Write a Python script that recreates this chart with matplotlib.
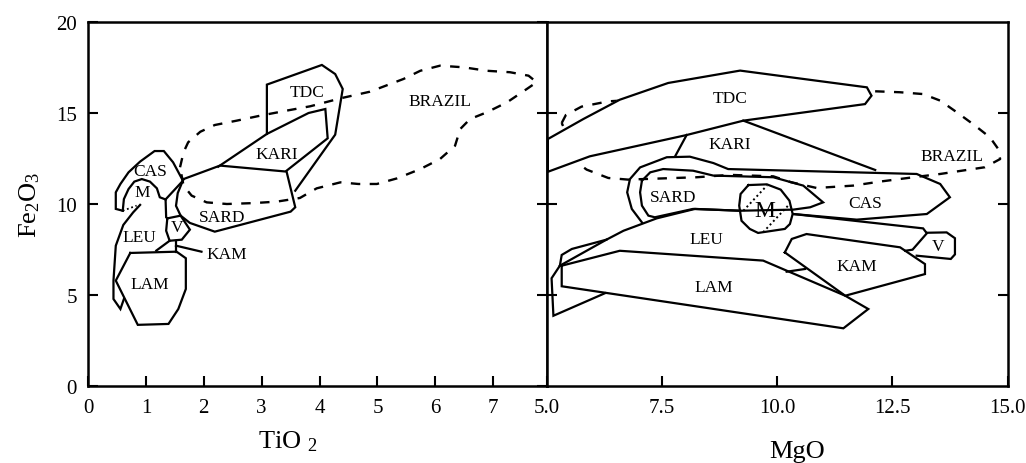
import matplotlib
matplotlib.use("Agg")
import matplotlib.pyplot as plt

plt.rcParams['font.family'] = ['Liberation Serif', 'DejaVu Serif']
plt.rcParams['mathtext.fontset'] = 'custom'
plt.rcParams['mathtext.rm'] = 'Liberation Serif'
plt.rcParams['mathtext.it'] = 'Liberation Serif'

# Campos composicionais: Fe2O3 x TiO2
tio2_tdc = [(3.09, 13.85), (3.09, 16.56), (4.04, 17.64), (4.27, 17.14), (4.40, 16.32), (4.27, 13.81), (3.58, 10.73)]
tio2_kari = [(2.25, 12.05), (3.09, 13.85), (3.81, 15.0), (4.10, 15.22), (4.14, 13.61), (3.43, 11.83)]
tio2_sard = [(1.65, 11.37), (2.28, 12.11), (3.43, 11.78), (3.58, 9.82), (3.50, 9.58), (2.19, 8.48),
             (1.76, 8.96), (1.60, 9.36), (1.52, 9.9), (1.55, 10.6), (1.65, 11.37)]
tio2_cas = [(0.60, 9.63), (0.48, 9.73), (0.48, 10.64), (0.56, 11.1), (0.70, 11.74), (0.90, 12.33),
            (1.15, 12.91), (1.31, 12.91), (1.47, 12.29), (1.64, 11.28), (1.34, 10.25)]
tio2_m = [(0.60, 9.63), (0.62, 10.27), (0.70, 10.82), (0.80, 11.23), (0.93, 11.37), (1.07, 11.23),
          (1.19, 10.86), (1.24, 10.37), (1.34, 10.25)]
tio2_m_dot = [(0.60, 9.63), (0.84, 9.91)]
tio2_leu = [(0.90, 9.95), (0.78, 9.54), (0.61, 8.85), (0.48, 7.71), (0.44, 5.79), (0.44, 4.78),
            (0.56, 4.23), (0.62, 4.78)]
tio2_leu_dir = [(1.34, 10.25), (1.35, 9.27), (1.37, 9.21)]
tio2_leu_inf = [(1.41, 7.98), (1.18, 7.44)]
tio2_lam = [(0.73, 7.31), (1.53, 7.38), (1.69, 7.02), (1.69, 5.33), (1.56, 4.23), (1.39, 3.41),
            (0.86, 3.36), (0.48, 5.79), (0.73, 7.31)]
tio2_v = [(1.37, 9.21), (1.60, 9.36), (1.76, 8.59), (1.62, 8.04), (1.41, 7.98), (1.35, 8.53), (1.37, 9.21)]
tio2_kam = [(1.52, 7.98), (1.52, 7.34)]
tio2_kam_seta = [(1.52, 7.71), (1.96, 7.38)]
tio2_brazil = [(1.59, 12.02), (1.65, 12.84), (1.73, 13.39), (1.94, 13.97), (2.19, 14.34), (2.57, 14.58),
               (2.97, 14.85), (3.43, 15.13), (3.84, 15.37), (4.38, 15.82), (4.87, 16.17), (5.45, 16.87),
               (5.74, 17.32), (6.08, 17.60), (6.49, 17.51), (6.89, 17.32), (7.29, 17.24), (7.61, 17.05),
               (7.75, 16.69), (7.58, 16.32), (7.24, 15.59), (6.89, 15.04), (6.60, 14.67), (6.43, 14.12),
               (6.34, 13.20), (6.08, 12.47), (5.74, 11.92), (5.34, 11.41), (4.99, 11.10), (4.67, 11.10),
               (4.36, 11.19), (3.95, 10.86), (3.66, 10.33), (3.26, 10.13), (2.86, 10.05), (2.40, 10.00),
               (2.05, 10.09), (1.79, 10.46), (1.65, 11.01), (1.59, 12.02)]

# Campos composicionais: Fe2O3 x MgO
mgo_tdc = [(5.03, 13.57), (5.80, 14.67), (6.59, 15.73), (7.64, 16.65), (9.20, 17.33), (11.95, 16.41),
           (12.05, 15.95), (11.91, 15.49), (9.27, 14.58), (8.04, 13.79), (5.94, 12.62), (5.03, 11.77),
           (5.03, 13.57)]
mgo_kari_esq = [(7.79, 12.62), (8.04, 13.79)]
mgo_kari_dir = [(9.27, 14.58), (12.13, 11.87)]
mgo_cas = [(7.07, 8.99), (6.85, 9.73), (6.75, 10.64), (6.81, 11.37), (7.03, 12.01), (7.61, 12.57),
           (8.11, 12.60), (8.62, 12.25), (8.94, 11.92), (13.03, 11.65), (13.54, 11.10), (13.75, 10.37),
           (13.25, 9.45), (11.73, 9.14), (10.35, 9.45)]
mgo_sard = [(7.07, 11.28), (7.25, 11.74), (7.53, 11.92), (8.18, 11.83), (8.62, 11.56), (9.92, 11.47),
            (10.57, 11.01), (11.00, 10.09), (10.72, 9.82), (10.35, 9.69), (9.20, 9.63), (8.18, 9.73),
            (7.35, 9.27), (7.21, 9.36), (7.07, 9.91), (7.03, 10.64), (7.07, 11.28)]
mgo_m = [(9.38, 11.04), (9.78, 11.08), (10.08, 10.79), (10.27, 10.18), (10.34, 9.45), (10.28, 8.90),
         (10.17, 8.63), (9.59, 8.41), (9.41, 8.63), (9.23, 9.08), (9.18, 9.91), (9.21, 10.55), (9.38, 11.04)]
mgo_m_dot1 = [(9.27, 9.63), (9.78, 11.01)]
mgo_m_dot2 = [(9.70, 8.45), (10.24, 9.91)]
mgo_leu = [(6.27, 5.10), (5.15, 3.86), (5.11, 5.92), (5.29, 6.61), (5.33, 7.20), (5.55, 7.53),
           (6.30, 8.04), (6.67, 8.53), (7.39, 9.21), (8.22, 9.73), (9.20, 9.63)]
mgo_leu_dir = [(10.35, 9.45), (13.17, 8.66), (13.25, 8.39), (12.94, 7.49), (12.78, 7.43)]
mgo_leu_int = [(5.29, 6.61), (6.30, 8.04)]
mgo_lam = [(5.33, 6.61), (6.59, 7.43), (9.70, 6.89), (11.48, 4.96), (11.98, 4.23), (11.44, 3.17),
           (5.33, 5.48), (5.33, 6.61)]
mgo_kam = [(10.17, 7.34), (10.32, 8.08), (10.64, 8.35), (12.67, 7.62), (13.21, 6.70), (13.21, 6.15),
           (11.48, 4.96), (10.17, 7.34)]
mgo_kam_seg = [(10.21, 6.28), (10.61, 6.43)]
mgo_v = [(13.25, 8.42), (13.68, 8.44), (13.86, 8.12), (13.86, 7.23), (13.77, 6.98), (13.03, 7.16)]
mgo_brazil = [(5.33, 14.45), (5.42, 14.89), (5.76, 15.35), (6.34, 15.64), (7.75, 15.86), (9.92, 16.04),
              (12.02, 16.19), (12.16, 16.19), (12.67, 16.14), (13.17, 16.04), (13.54, 15.68),
              (13.90, 15.04), (14.30, 14.30), (14.62, 13.66), (14.80, 13.02), (14.84, 12.47),
              (14.51, 12.02), (14.01, 11.83), (13.54, 11.65), (12.96, 11.47), (12.23, 11.23),
              (11.65, 11.01), (10.86, 10.88), (10.30, 11.2), (9.92, 11.52), (8.98, 11.60), (8.26, 11.47),
              (7.10, 11.37), (6.77, 11.34), (6.34, 11.43), (5.87, 11.89), (5.76, 12.10), (5.55, 13.2),
              (5.33, 14.45)]

# Rótulos dos campos
tio2_rotulos = ['TDC', 'KARI', 'SARD', 'CAS', 'M', 'LEU', 'LAM', 'V', 'KAM', 'BRAZIL']
tio2_rot_x = [3.78, 3.26, 2.31, 1.07, 0.93, 0.89, 1.07, 1.53, 2.40, 6.08]
tio2_rot_y = [16.17, 12.75, 9.27, 11.83, 10.64, 8.17, 5.6, 8.72, 7.25, 15.68]
mgo_rotulos = ['TDC', 'KARI', 'SARD', 'CAS', 'M', 'LEU', 'LAM', 'V', 'KAM', 'BRAZIL']
mgo_rot_x = [8.98, 8.98, 7.75, 11.91, 9.74, 8.47, 8.62, 13.50, 11.73, 13.79]
mgo_rot_y = [15.82, 13.30, 10.37, 10.05, 9.63, 8.08, 5.42, 7.71, 6.61, 12.62]

tio2_ticks = [0, 1, 2, 3, 4, 5, 6, 7]
mgo_ticks = [5.0, 7.5, 10.0, 12.5, 15.0]
fe2o3_ticks = [0, 5, 10, 15, 20]

lw = 1.6
tracejado = (0, (4, 4))


def linha(ax, pts, **kw):
    xs = [p[0] for p in pts]
    ys = [p[1] for p in pts]
    ax.plot(xs, ys, color='black', lw=kw.pop('lw', lw), solid_joinstyle='miter', **kw)


fig = plt.figure(figsize=(10.26, 4.64), dpi=100)
ax1 = fig.add_axes([88 / 1026, 1 - 387 / 464, (546.5 - 88) / 1026, 364 / 464])
ax2 = fig.add_axes([546.5 / 1026, 1 - 387 / 464, 461 / 1026, 364 / 464])

# Painel TiO2
for pts in [tio2_tdc, tio2_kari, tio2_sard, tio2_cas, tio2_m, tio2_leu, tio2_leu_dir,
            tio2_leu_inf, tio2_lam, tio2_v, tio2_kam, tio2_kam_seta]:
    linha(ax1, pts)
linha(ax1, tio2_m_dot, ls=(0, (1, 1.5)), lw=1.3)
linha(ax1, tio2_brazil, ls=tracejado, lw=1.7)
for t, x, y in zip(tio2_rotulos, tio2_rot_x, tio2_rot_y):
    ax1.text(x, y, t, ha='center', va='center', fontsize=12.5)

# Painel MgO (TDC preenchido de branco esconde o tracejado por baixo)
linha(ax2, mgo_brazil, ls=tracejado, lw=1.7, zorder=1)
ax2.fill([p[0] for p in mgo_tdc], [p[1] for p in mgo_tdc], color='white', zorder=2)
linha(ax2, mgo_tdc, zorder=3)
for pts in [mgo_kari_esq, mgo_kari_dir, mgo_cas, mgo_sard, mgo_m, mgo_leu, mgo_leu_dir,
            mgo_leu_int, mgo_lam, mgo_kam, mgo_kam_seg, mgo_v]:
    linha(ax2, pts, zorder=3)
for pts in [mgo_m_dot1, mgo_m_dot2]:
    linha(ax2, pts, ls=(0, (1, 1.5)), lw=1.4, zorder=3)
for t, x, y in zip(mgo_rotulos, mgo_rot_x, mgo_rot_y):
    ax2.text(x, y, t, ha='center', va='center', fontsize=17 if t == 'M' else 12.5, zorder=4)

ax1.set_xlim(0, 7.92)
ax1.set_ylim(0, 20)
ax1.set_xticks(tio2_ticks)
ax1.set_xticklabels([str(v) for v in tio2_ticks])
ax1.set_yticks(fe2o3_ticks)
ax1.set_yticklabels([str(v) for v in fe2o3_ticks])
ax1.tick_params(axis='both', direction='in', length=7, width=1.5, labelsize=15)
ax1.tick_params(axis='x', pad=9)
ax1.tick_params(axis='y', pad=8, right=True)

ax2.set_xlim(5, 15)
ax2.set_ylim(0, 20)
ax2.set_xticks(mgo_ticks)
ax2.set_xticklabels(['%.1f' % v for v in mgo_ticks])
ax2.set_yticks([5, 10, 15])
ax2.tick_params(axis='both', direction='in', length=7, width=1.5, labelsize=15)
ax2.tick_params(axis='x', pad=9)
ax2.tick_params(axis='y', left=True, right=True, labelleft=False)

for ax in (ax1, ax2):
    for s in ax.spines.values():
        s.set_linewidth(1.8)

fig.text(30 / 1026, 1 - 205 / 464, r'$\mathregular{Fe_2O_3}$', rotation=90,
         ha='center', va='center', fontsize=19)
fig.text(288 / 1026, 1 - 442 / 464, r'$\mathregular{TiO\ _2}$', ha='center', va='center', fontsize=19)
fig.text(797 / 1026, 1 - 452 / 464, 'MgO', ha='center', va='center', fontsize=19)

fig.savefig('out.png', dpi=100)
